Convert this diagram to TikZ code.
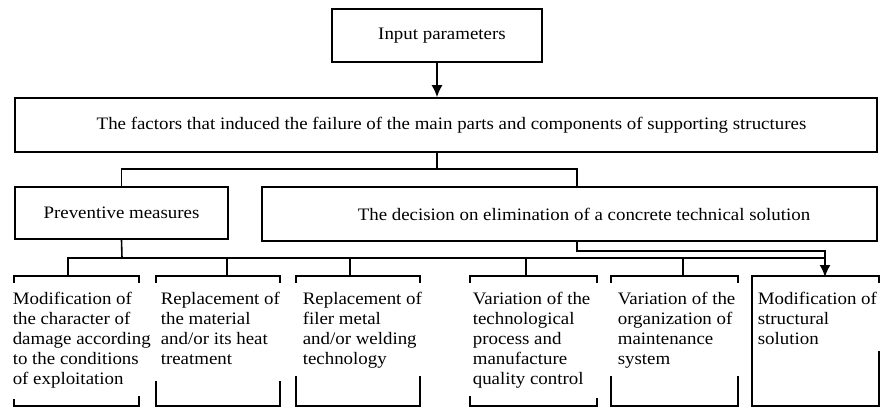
\documentclass[tikz,border=0pt]{standalone}
\usepackage{fontspec}
\setmainfont{Liberation Serif}[FakeStretch=1.08]
\usetikzlibrary{arrows.meta}
\newcommand\dfont{\fontsize{17.5pt}{20pt}\selectfont}
% open box: name, left top drop, right top drop, left bottom rise, right bottom rise
\newcommand\openbox[5]{%
  \draw (#1.north west) ++(0,#2) -- (#1.north west) -- (#1.north east) -- ++(0,#3);
  \draw (#1.south west) ++(0,-#4) -- (#1.south west) -- (#1.south east) -- ++(0,-#5);
}
\begin{document}
\begin{tikzpicture}[x=1pt,y=-1pt,line width=1.6pt,
  box/.style={draw,rectangle,inner sep=0pt,font=\dfont},
  slot/.style={rectangle,inner sep=0pt,draw=none,minimum height=128pt},
  txt/.style={anchor=north west,inner sep=0pt,align=left,font=\dfont},
  arr/.style={-{Latex[length=12pt,width=11pt]}}]
\useasboundingbox (0,0) rectangle (886,407);
\fill[white] (0,0) rectangle (886,407);

% upper boxes
\node[box,minimum width=210pt,minimum height=53pt] (inp) at (437,35.5) {\hspace*{10pt}Input parameters};
\node[box,minimum width=862pt,minimum height=54pt] (fac) at (446,125) {\hspace*{11pt}The factors that induced the failure of the main parts and components of supporting structures};
\node[box,minimum width=213pt,minimum height=52pt] (prev) at (121.5,213) {Preventive measures};
\node[box,minimum width=615pt,minimum height=54pt] (dec) at (569.5,214) {\hspace*{29pt}The decision on elimination of a concrete technical solution};

% lower boxes (frames)
\node[slot,minimum width=123pt] (b1) at (76.5,341) {};
\node[slot,minimum width=122pt] (b2) at (218,341) {};
\node[slot,minimum width=122pt] (b3) at (358,341) {};
\node[slot,minimum width=125pt] (b4) at (533.5,341) {};
\node[slot,minimum width=125pt] (b5) at (674.5,341) {};
\node[slot,minimum width=125pt] (b6) at (815.5,341) {};

\openbox{b1}{7}{7}{7}{10}
\openbox{b2}{7}{7}{25}{25}
\openbox{b3}{7}{7}{30}{30}
\openbox{b4}{7}{7}{10}{8}
\openbox{b5}{7}{7}{30}{30}
\draw (b6.north east) ++(0,7) -- (b6.north east) -- (b6.north west) -- (b6.south west) -- (b6.south east) -- ++(0,-55);

% lower box texts
\node[txt] (l1) at (12,291) {Modification of\\the character of\\damage according\\to the conditions\\of exploitation};
\node[txt] (l2) at (160,291) {Replacement of\\the material\\and/or its heat\\treatment};
\node[txt] (l3) at (302,291) {Replacement of\\filer metal\\and/or welding\\technology};
\node[txt] (l4) at (472,291) {Variation of the\\technological\\process and\\manufacture\\quality control};
\node[txt] (l5) at (617,291) {Variation of the\\organization of\\maintenance\\system};
\node[txt] (l6) at (757,291) {Modification of\\structural\\solution};

% junction coordinates
\coordinate (j1) at (437,169);
\coordinate (dtop) at (577,187);
\coordinate (dbot) at (577,241);
\coordinate (j2) at (122,258);
\coordinate (e2) at (825,258);
\coordinate (t1) at (68,277);
\coordinate (t2) at (227,277);
\coordinate (t3) at (350,277);
\coordinate (t4) at (526,277);
\coordinate (t5) at (683,277);
\coordinate (t6) at (825,277);

% connectors
\draw[arr] (inp.south) -- (inp.south |- fac.north);
\draw (inp.south |- fac.south) -- (j1);
\draw (prev.north) |- (j1) -| (dtop);
\draw (prev.south) -- (j2);
\draw (t1) |- (e2);
\draw (t2) -- (t2 |- j2);
\draw (t3) -- (t3 |- j2);
\draw (t4) -- (t4 |- j2);
\draw (t5) -- (t5 |- j2);
\draw[arr] (dbot) |- ([yshift=7pt]e2) -- (t6);
\end{tikzpicture}
\end{document}
